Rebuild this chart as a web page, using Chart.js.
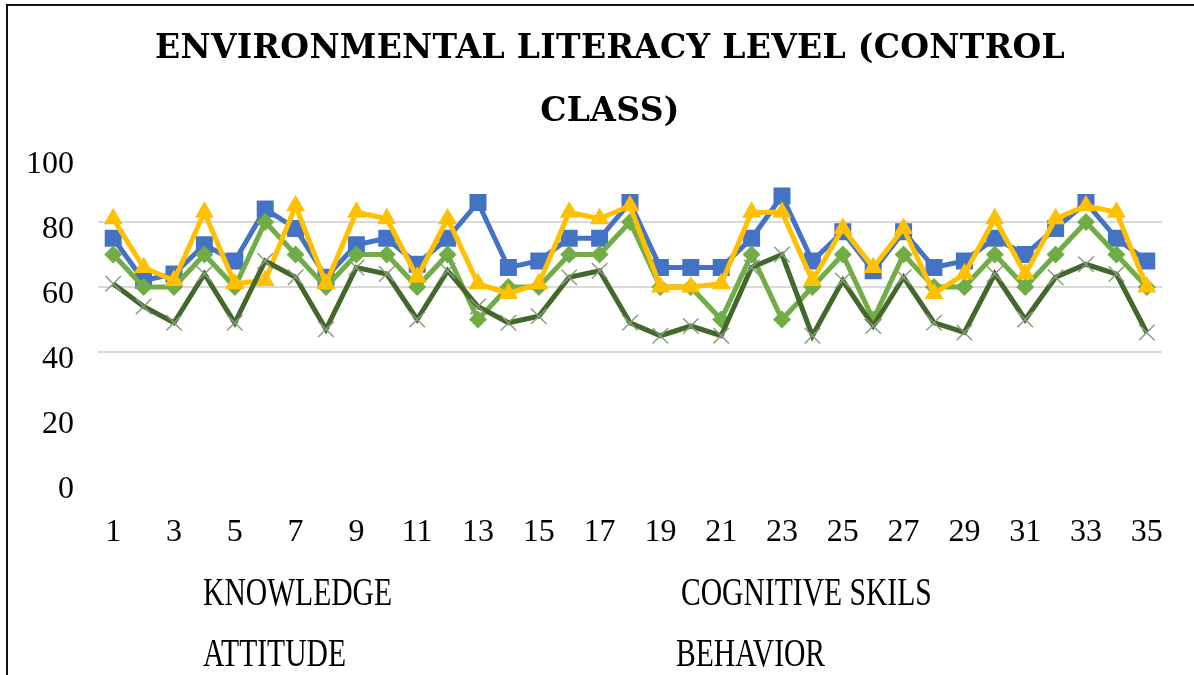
<!DOCTYPE html>
<html lang="en">
<head>
  <meta charset="UTF-8">
  <title>Environmental Literacy Level (Control Class)</title>
  <style>
    * { box-sizing: border-box; margin: 0; padding: 0; }
    body { width: 1194px; height: 675px; background: #fff; overflow: hidden; position: relative; font-family: 'Liberation Serif', serif; }
    .frame { position: absolute; left: 6px; top: 4px; width: 1300px; height: 800px; border-top: 2px solid #111; border-left: 2px solid #111; }
    .title {
      position: absolute; left: 0; top: 15px; width: 1220px; text-align: center;
      font-family: 'DejaVu Serif', serif; font-weight: bold; font-size: 33px;
      letter-spacing: 0.3px; line-height: 63px; color: #000;
    }
    .wrap { position: absolute; left: 0; top: 0; width: 1194px; height: 675px; }
    .leg { position: absolute; font-size: 40px; color: #000; transform: scaleX(0.74); transform-origin: left center; white-space: nowrap; line-height: 40px; }
  </style>
</head>
<body>
  <div class="frame"></div>
  <div class="wrap"><canvas id="chart"></canvas></div>
  <div class="title">ENVIRONMENTAL LITERACY LEVEL (CONTROL<br>CLASS)</div>
  <div class="leg" style="left:203px; top:572px;">KNOWLEDGE</div>
  <div class="leg" style="left:681px; top:572px;">COGNITIVE SKILS</div>
  <div class="leg" style="left:203px; top:633px;">ATTITUDE</div>
  <div class="leg" style="left:676px; top:633px;">BEHAVIOR</div>

  <script src="https://cdn.jsdelivr.net/npm/chart.js@4"></script>
  <script>
    const students = Array.from({ length: 35 }, (_, i) => String(i + 1));
    const knowledge = [75,62,64,73,68,84,78,63,73,75,67,75,86,66,68,75,75,86,66,66,66,75,88,68,77,65,77,66,68,75,70,78,86,75,68];
    const cognitive = [70,60,60,70,60,80,70,60,70,70,60,70,50,60,60,70,70,80,60,60,50,70,50,60,70,50,70,60,60,70,60,70,80,70,60];
    const attitude  = [81,66,62,83,61,62,85,61,83,81,63,81,61,58,61,83,81,85,60,60,61,83,83,62,78,66,78,58,64,81,64,81,85,83,60];
    const behavior  = [61,54,49,64,49,68,63,47,66,64,50,65,54,49,51,63,65,49,45,48,45,66,70,45,62,48,63,49,46,64,50,63,67,64,46];
    const yTicks = [0, 20, 40, 60, 80, 100];
    const gridAt = [40, 60, 80];

    const tickFont = { family: 'Liberation Serif', size: 32 };

    new Chart(document.getElementById('chart'), {
      type: 'line',
      data: {
        labels: students,
        datasets: [
          { label: 'KNOWLEDGE', data: knowledge, order: 4, borderColor: '#4472C4', backgroundColor: '#4472C4',
            borderWidth: 5, pointStyle: 'rect', pointRadius: 12, pointBorderWidth: 0 },
          { label: 'COGNITIVE SKILS', data: cognitive, order: 3, borderColor: '#70AD47', backgroundColor: '#70AD47',
            borderWidth: 5, pointStyle: 'rectRot', pointRadius: 9, pointBorderWidth: 0 },
          { label: 'ATTITUDE', data: attitude, order: 2, borderColor: '#FFC000', backgroundColor: '#FFC000',
            borderWidth: 5, pointStyle: 'triangle', pointRadius: 11, pointBorderWidth: 0 },
          { label: 'BEHAVIOR', data: behavior, order: 1, borderColor: '#43682B', backgroundColor: '#43682B',
            borderWidth: 5, pointStyle: 'crossRot', pointRadius: 11, pointBorderWidth: 1.5, pointBorderColor: '#8a9c80' }
        ]
      },
      options: {
        responsive: true,
        maintainAspectRatio: false,
        animation: false,
        layout: { padding: { top: 157, right: 15, bottom: 123, left: 0 } },
        plugins: { legend: { display: false }, title: { display: false }, tooltip: { enabled: false } },
        scales: {
          x: {
            offset: true,
            grid: { display: false, drawTicks: false },
            border: { display: false },
            afterFit: s => { s.height = 70; },
            ticks: {
              autoSkip: false, maxRotation: 0, padding: 31, color: '#000', font: tickFont,
              callback: (v, i) => (i % 2 === 0 ? students[i] : '')
            }
          },
          y: {
            min: 0, max: 100,
            afterFit: s => { s.width = 98; },
            afterBuildTicks: s => { s.ticks = yTicks.map(v => ({ value: v })); },
            grid: {
              drawTicks: false, lineWidth: 2,
              color: c => (gridAt.includes(c.tick.value) ? '#d9d9d9' : 'rgba(0,0,0,0)')
            },
            border: { display: false },
            ticks: { padding: 24, labelOffset: 8, color: '#000', font: tickFont }
          }
        }
      }
    });
  </script>
</body>
</html>
